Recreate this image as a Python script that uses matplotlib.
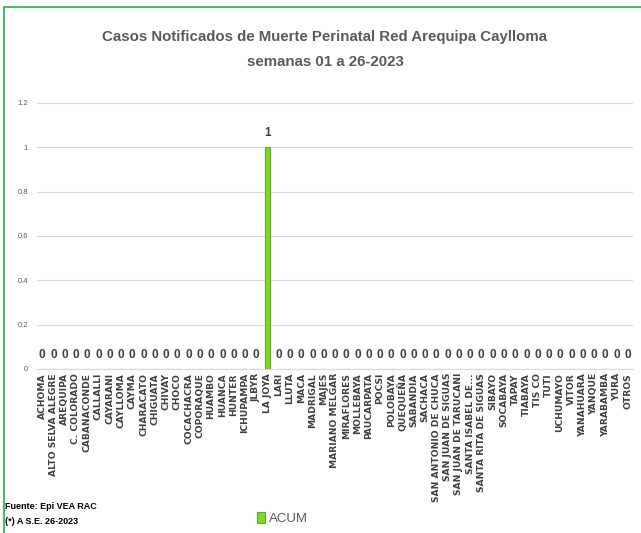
import numpy as np
import matplotlib
matplotlib.use("Agg")
import matplotlib.pyplot as plt
from matplotlib.patches import Rectangle

# distritos (eje x)
distritos = ["ACHOMA", "ALTO SELVA ALEGRE", "AREQUIPA", "C. COLORADO", "CABANACONDE",
             "CALLALLI", "CAYARANI", "CAYLLOMA", "CAYMA", "CHARACATO", "CHIGUATA",
             "CHIVAY", "CHOCO", "COCACHACRA", "COPORAQUE", "HUAMBO", "HUANCA",
             "HUNTER", "ICHUPAMPA", "JLBYR", "LA JOYA", "LARI", "LLUTA", "MACA",
             "MADRIGAL", "MAJES", "MARIANO MELGAR", "MIRAFLORES", "MOLLEBAYA",
             "PAUCARPATA", "POCSI", "POLOBAYA", "QUEQUEÑA", "SABANDIA", "SACHACA",
             "SAN ANTONIO DE CHUCA", "SAN JUAN DE SIGUAS", "SAN JUAN DE TARUCANI",
             "SANTA ISABEL DE...", "SANTA RITA DE SIGUAS", "SIBAYO", "SOCABAYA",
             "TAPAY", "TIABAYA", "TIS CO", "TUTI", "UCHUMAYO", "VITOR", "YANAHUARA",
             "YANQUE", "YARABAMBA", "YURA", "OTROS"]

# casos acumulados (solo LA JOYA tiene 1)
acum = [0, 0, 0, 0, 0, 0, 0, 0, 0, 0, 0, 0, 0, 0, 0, 0, 0, 0, 0, 0, 1, 0, 0, 0, 0, 0,
        0, 0, 0, 0, 0, 0, 0, 0, 0, 0, 0, 0, 0, 0, 0, 0, 0, 0, 0, 0, 0, 0, 0, 0, 0, 0, 0]

yticks = [0, 0.2, 0.4, 0.6, 0.8, 1, 1.2]
ytick_labels = ["0", "0.2", "0.4", "0.6", "0.8", "1", "1.2"]

SANS = ["Liberation Sans", "DejaVu Sans"]
GRIS = "#595959"

fig = plt.figure(figsize=(6.41, 5.33), dpi=100)
ax = fig.add_axes([0.057, 0.308, 0.931, 0.499])

x = np.arange(len(distritos))
ax.bar(x, acum, width=0.45, color="#7ED62F", edgecolor="#5BB01E", linewidth=0.8,
       label="ACUM", zorder=3)

# etiquetas de datos
for xi, v in zip(x, acum):
    ax.annotate(f"{v}", (xi, v), xytext=(0, 10), textcoords="offset points",
                ha="center", va="center", fontsize=8.5, fontweight="bold",
                color="#404040", family=SANS)

ax.set_xlim(-0.5, len(distritos) - 0.5)
ax.set_ylim(0, 1.2)
ax.set_yticks(yticks)
ax.set_yticklabels(ytick_labels, fontsize=5.5, color=GRIS, family=SANS)
ax.set_xticks(x)
ax.set_xticklabels(distritos, rotation=90, fontsize=6.6, color="#404040",
                   fontweight="bold", family="DejaVu Sans")
ax.tick_params(axis="both", length=0, pad=3)
ax.tick_params(axis="y", pad=6)

ax.grid(axis="y", color="#d9d9d9", linewidth=0.8, zorder=0)
for s in ["top", "right", "left"]:
    ax.spines[s].set_visible(False)
ax.spines["bottom"].set_color("#d9d9d9")

fig.text(0.507, 0.93, "Casos Notificados de Muerte Perinatal Red Arequipa Caylloma",
         ha="center", va="center", fontsize=10.8, fontweight="bold", color=GRIS,
         family=SANS)
fig.text(0.507, 0.883, "semanas 01 a 26-2023", ha="center", va="center",
         fontsize=10.8, fontweight="bold", color=GRIS, family=SANS)

fig.legend(loc="center", bbox_to_anchor=(0.44, 0.027), frameon=False,
           handlelength=0.6, handleheight=0.9, handletextpad=0.3,
           prop={"family": SANS, "size": 9.5})
for t in fig.legends[0].get_texts():
    t.set_color(GRIS)

fig.text(0.008, 0.049, "Fuente: Epi VEA RAC", fontsize=6.5, fontweight="bold",
         family=SANS, va="center", color="black")
fig.text(0.008, 0.021, "(*) A S.E. 26-2023", fontsize=6.5, fontweight="bold",
         family=SANS, va="center", color="black")

# marco verde
fig.add_artist(Rectangle((0.006, -0.01), 1.1, 0.997, transform=fig.transFigure,
                         fill=False, edgecolor="#22b14c", linewidth=1.2))

fig.savefig("out.png", dpi=100)
